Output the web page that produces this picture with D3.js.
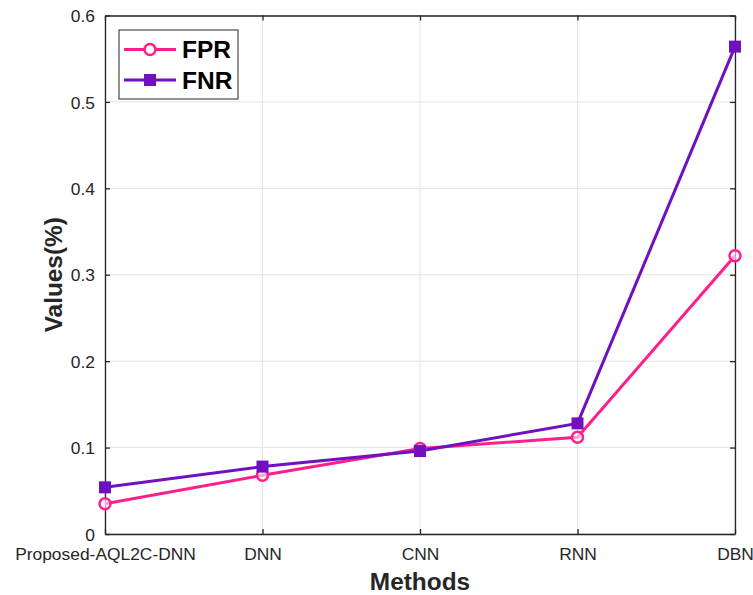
<!DOCTYPE html>
<html><head><meta charset="utf-8">
<script src="https://cdn.jsdelivr.net/npm/d3@7"></script>
<style>body{margin:0;background:#fff}svg{display:block}</style>
</head><body>
<script>
const categories = ["Proposed-AQL2C-DNN","DNN","CNN","RNN","DBN"];
const fprValues = [0.035,0.068,0.099,0.112,0.322];
const fnrValues = [0.054,0.078,0.096,0.128,0.564];
const yTicks = [0,0.1,0.2,0.3,0.4,0.5,0.6];
const seriesNames = ["FPR","FNR"];
const seriesColors = ["#ff1f8c","#7010c0"];

const W=753,H=595;
const m={l:105,r:18,t:15.5,b:61};
const svg=d3.select("body").append("svg").attr("width",W).attr("height",H);
const x=d3.scalePoint().domain(categories).range([m.l,W-m.r]);
const y=d3.scaleLinear().domain([0,0.6]).range([H-m.b,m.t]);
const font="Arial, 'Liberation Sans', sans-serif";

// grid
svg.append("g").selectAll("line").data(categories).join("line")
 .attr("x1",d=>x(d)).attr("x2",d=>x(d)).attr("y1",m.t).attr("y2",H-m.b)
 .attr("stroke","#e3e3e3").attr("stroke-width",1);
svg.append("g").selectAll("line").data(yTicks).join("line")
 .attr("x1",m.l).attr("x2",W-m.r).attr("y1",d=>y(d)).attr("y2",d=>y(d))
 .attr("stroke","#e3e3e3").attr("stroke-width",1);

// axes
const axL=svg.append("g").attr("transform",`translate(${m.l},0)`)
 .call(d3.axisLeft(y).tickValues(yTicks).tickSizeInner(-5).tickSizeOuter(0).tickPadding(10).tickFormat(d=>d===0?"0":d3.format(".1f")(d)));
const axR=svg.append("g").attr("transform",`translate(${W-m.r},0)`)
 .call(d3.axisRight(y).tickValues(yTicks).tickSizeInner(-5).tickSizeOuter(0).tickFormat(""));
const axB=svg.append("g").attr("transform",`translate(0,${H-m.b})`)
 .call(d3.axisBottom(x).tickSizeInner(-5).tickSizeOuter(0).tickPadding(14));
const axT=svg.append("g").attr("transform",`translate(0,${m.t})`)
 .call(d3.axisTop(x).tickSizeInner(-5).tickSizeOuter(0).tickFormat(""));
[axL,axR,axB,axT].forEach(a=>{
 a.selectAll("path,line").attr("stroke","#262626").attr("stroke-width",1.3);
 a.selectAll("text").attr("fill","#262626").style("font-family",font).style("font-size","17.4px");
});
axL.selectAll("text").attr("dy","0.35em");

// lines
const data=[fprValues,fnrValues];
const line=d3.line().x((d,i)=>x(categories[i])).y(d=>y(d));
data.forEach((vals,k)=>{
 svg.append("path").datum(vals).attr("d",line).attr("fill","none")
  .attr("stroke",seriesColors[k]).attr("stroke-width",3);
});
// markers
svg.append("g").selectAll("circle").data(fprValues).join("circle")
 .attr("cx",(d,i)=>x(categories[i])).attr("cy",d=>y(d)).attr("r",5.5)
 .attr("fill","#fff").attr("fill-opacity",0.6).attr("stroke",seriesColors[0]).attr("stroke-width",2.5);
svg.append("g").selectAll("rect").data(fnrValues).join("rect")
 .attr("x",(d,i)=>x(categories[i])-5).attr("y",d=>y(d)-5).attr("width",10).attr("height",10)
 .attr("fill",seriesColors[1]).attr("stroke",seriesColors[1]).attr("stroke-width",2);

// axis titles
svg.append("text").attr("x",(m.l+W-m.r)/2).attr("y",590).attr("text-anchor","middle")
 .style("font-family",font).style("font-size","24.4px").style("font-weight","bold").attr("fill","#262626").text("Methods");
svg.append("text").attr("transform",`translate(62,${(m.t+H-m.b)/2}) rotate(-90)`).attr("text-anchor","middle")
 .style("font-family",font).style("font-size","24.4px").style("font-weight","bold").attr("fill","#262626").text("Values(%)");

// legend
const lg=svg.append("g");
lg.append("rect").attr("x",119).attr("y",30).attr("width",119).attr("height",69)
 .attr("fill","#fff").attr("stroke","#262626").attr("stroke-width",1);
[49.5,80].forEach((yy,k)=>{
 lg.append("line").attr("x1",124).attr("x2",176).attr("y1",yy).attr("y2",yy)
  .attr("stroke",seriesColors[k]).attr("stroke-width",3);
 if(k===0) lg.append("circle").attr("cx",150).attr("cy",yy).attr("r",5.5).attr("fill","#fff").attr("stroke",seriesColors[0]).attr("stroke-width",2.5);
 else lg.append("rect").attr("x",145).attr("y",yy-5).attr("width",10).attr("height",10).attr("fill",seriesColors[1]).attr("stroke",seriesColors[1]).attr("stroke-width",2);
 lg.append("text").attr("x",182).attr("y",yy).attr("dy","0.36em")
  .style("font-family",font).style("font-size","24.5px").style("font-weight","bold").attr("fill","#000").text(seriesNames[k]);
});
</script>
</body></html>
